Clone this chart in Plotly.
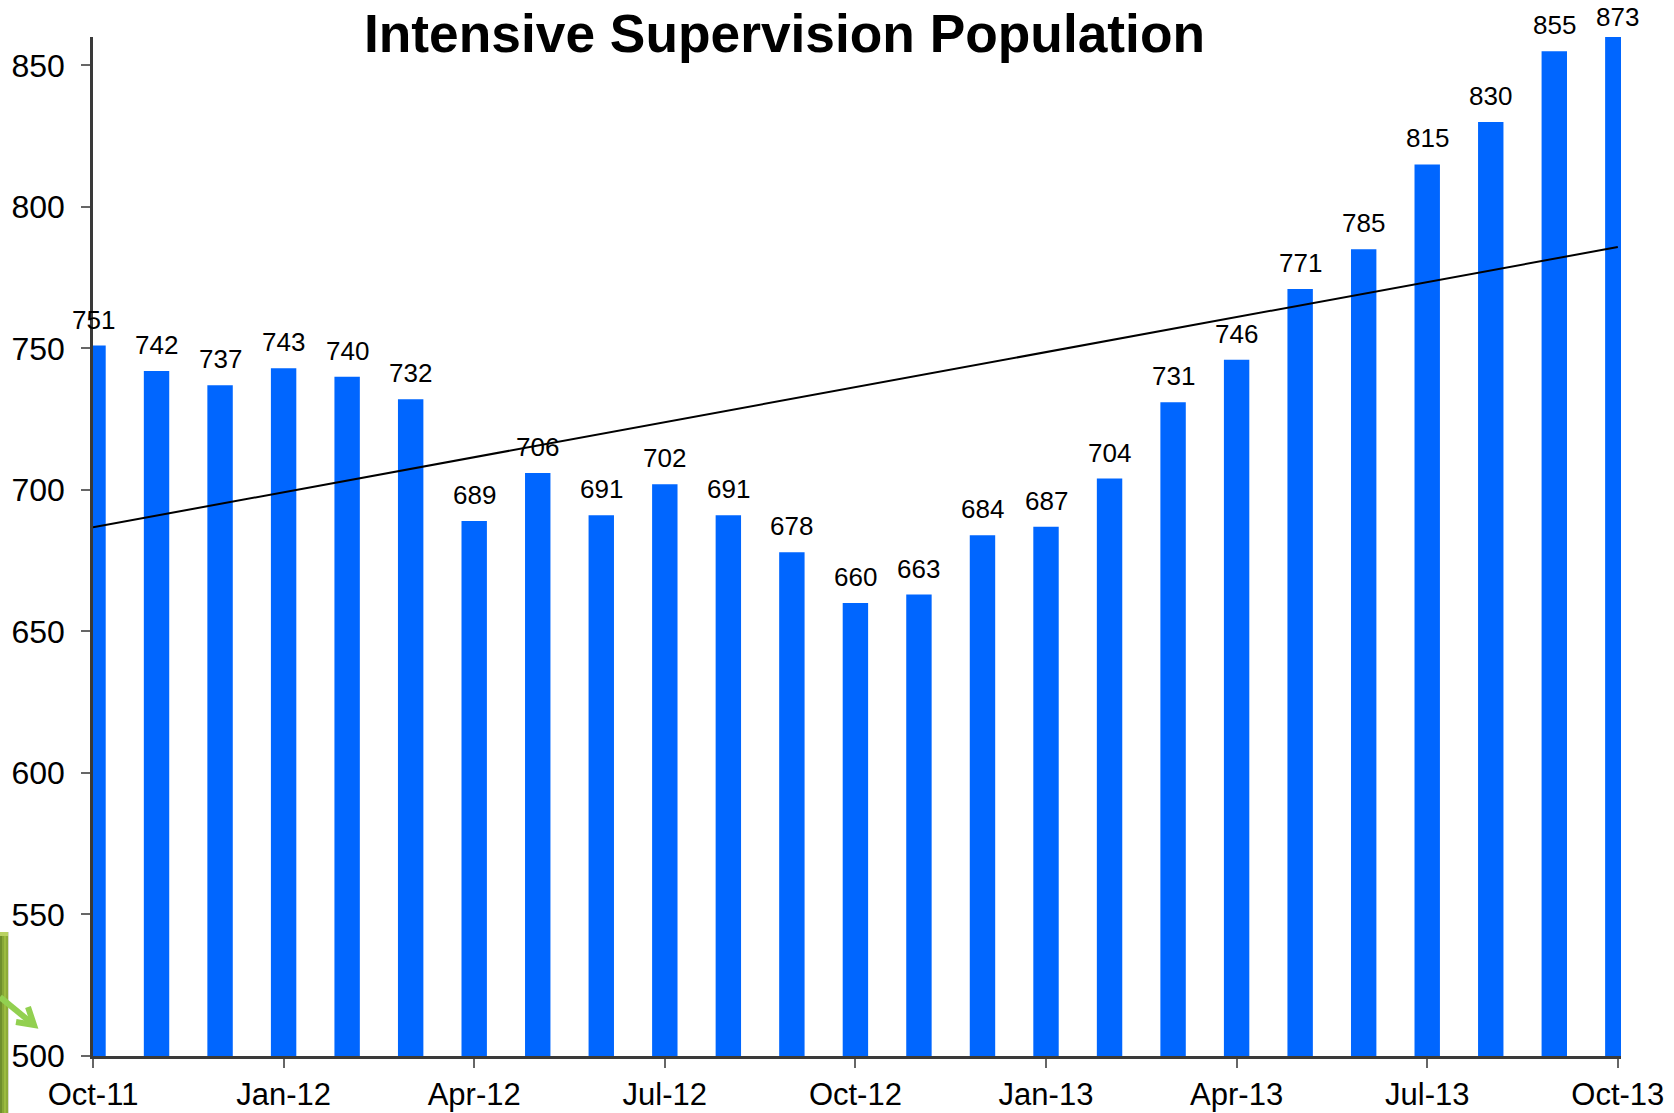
import plotly.graph_objects as go

months = ["Oct-11","Nov-11","Dec-11","Jan-12","Feb-12","Mar-12","Apr-12","May-12","Jun-12","Jul-12","Aug-12","Sep-12",
          "Oct-12","Nov-12","Dec-12","Jan-13","Feb-13","Mar-13","Apr-13","May-13","Jun-13","Jul-13","Aug-13","Sep-13","Oct-13"]
population = [751,742,737,743,740,732,689,706,691,702,691,678,660,663,684,687,704,731,746,771,785,815,830,855,873]
trend_months = ["Oct-11","Oct-13"]
trend_values = [686.8,785.8]
tick_months = months[::3]
y_ticks = [500,550,600,650,700,750,800,850]
title_text = "Intensive Supervision Population"

FONT = "Liberation Sans, Arial, sans-serif"
AXIS = "#3a3a3a"

fig = go.Figure()
fig.add_bar(x=months, y=population, width=0.4, marker=dict(color="#0066ff", line=dict(width=0)), showlegend=False)
fig.add_scatter(x=trend_months, y=trend_values, mode="lines", line=dict(color="#000000", width=2), showlegend=False)

for m, v in zip(months, population):
    clipped = v > 860
    fig.add_annotation(x=m, y=min(v, 860), text=str(v), showarrow=False, xanchor="center", yanchor="middle",
                       yshift=20 if clipped else 26, font=dict(family=FONT, size=26, color="#000000"))

fig.add_annotation(xref="paper", yref="paper", x=0.4525, y=1.003, text="<b>%s</b>" % title_text, showarrow=False,
                   xanchor="center", yanchor="middle", font=dict(family=FONT, size=53.3, color="#000000"))

ML, MT, PW, PH = 93, 37, 1528, 1019
def px(x): return (x - ML) / PW
def py(y): return 1 - (y - MT) / PH

# decorative green panel at the lower-left page edge
for x0, x1, col in [(0,2,"#6f8f2c"),(2,4,"#88a836"),(4,6,"#9cbc3f"),(6,8,"#8dab38"),(8,9,"#d8dccb")]:
    fig.add_shape(type="rect", xref="paper", yref="paper", x0=px(x0), x1=px(x1), y0=py(932), y1=py(1113),
                  line=dict(width=0), fillcolor=col, layer="above")
fig.add_shape(type="rect", xref="paper", yref="paper", x0=px(0), x1=px(8), y0=py(932), y1=py(936),
              line=dict(width=0), fillcolor="#b9d262", layer="above")
# green arrow
fig.add_shape(type="path", xref="paper", yref="paper",
              path="M %f %f L %f %f" % (px(0), py(997), px(34), py(1025)),
              line=dict(color="#92d050", width=6), layer="above")
fig.add_shape(type="path", xref="paper", yref="paper",
              path="M %f %f L %f %f L %f %f" % (px(16), py(1022), px(34), py(1025), px(28), py(1007)),
              line=dict(color="#92d050", width=6), layer="above")

fig.update_layout(
    width=1674, height=1113, margin=dict(l=93, r=53, t=37, b=57),
    paper_bgcolor="#ffffff", plot_bgcolor="#ffffff", showlegend=False,
    xaxis=dict(automargin=False, type="category", categoryorder="array", categoryarray=months, range=[0, 24.05],
               tickmode="array", tickvals=tick_months, ticktext=tick_months,
               ticks="outside", ticklen=9, tickwidth=1.5, tickcolor="#666666", ticklabelstandoff=0,
               showline=True, linecolor=AXIS, linewidth=2.5, showgrid=False, zeroline=False,
               tickfont=dict(family=FONT, size=31, color="#000000")),
    yaxis=dict(automargin=False, range=[500, 860], tickmode="array", tickvals=y_ticks,
               ticks="outside", ticklen=9, tickwidth=1.5, tickcolor="#666666", ticklabelstandoff=10,
               showline=True, linecolor=AXIS, linewidth=2.5, showgrid=False, zeroline=False,
               tickfont=dict(family=FONT, size=32, color="#000000")),
)

fig.write_html("out.html", config={"displayModeBar": False},
               post_script="document.body.style.margin='0';document.documentElement.style.overflow='hidden';")
